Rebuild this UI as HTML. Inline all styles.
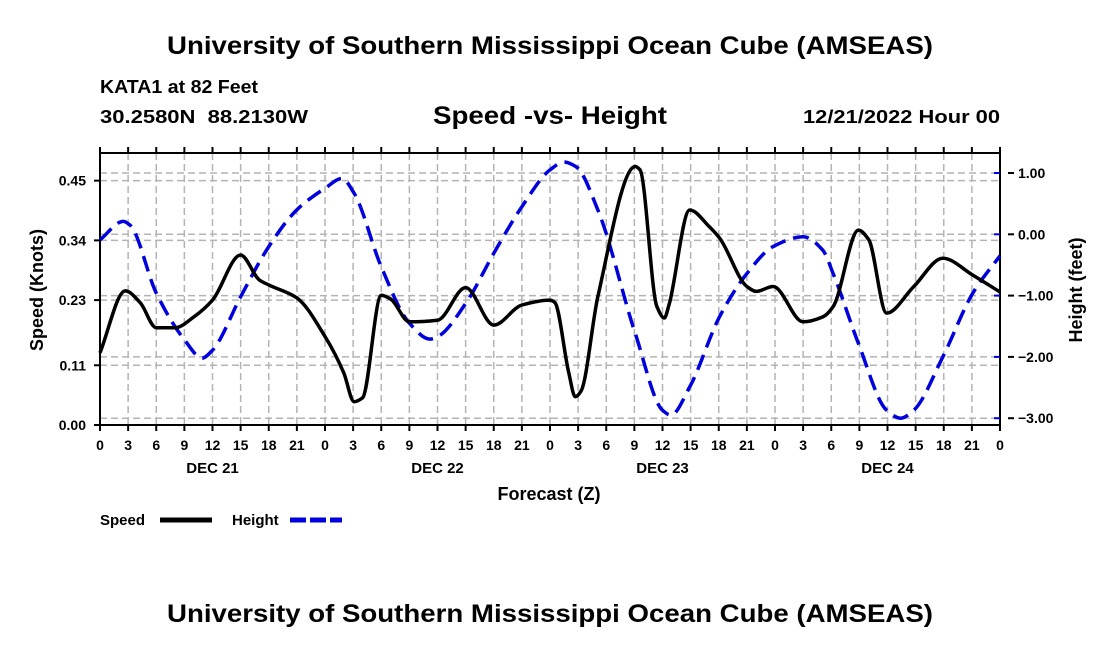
<!DOCTYPE html>
<html><head><meta charset="utf-8"><style>
body{margin:0;background:#fff;}
svg text{font-family:"Liberation Sans",Arial,sans-serif;font-weight:bold;fill:#000;}
</style></head><body>
<svg width="1100" height="650" viewBox="0 0 1100 650">
<text x="167" y="54" font-size="25" textLength="766" lengthAdjust="spacingAndGlyphs">University of Southern Mississippi Ocean Cube (AMSEAS)</text>
<text x="100" y="93" font-size="18" textLength="158" lengthAdjust="spacingAndGlyphs">KATA1 at 82 Feet</text>
<text x="100" y="123" font-size="18" textLength="208" lengthAdjust="spacingAndGlyphs" xml:space="preserve">30.2580N  88.2130W</text>
<text x="433" y="124" font-size="25" textLength="234" lengthAdjust="spacingAndGlyphs">Speed -vs- Height</text>
<text x="803" y="123" font-size="18" textLength="197" lengthAdjust="spacingAndGlyphs">12/21/2022 Hour 00</text>
<g id="grid"></g>
<g id="axes"></g>
<g id="series"></g>
<text transform="translate(43,290) rotate(-90)" font-size="18" text-anchor="middle">Speed (Knots)</text>
<text transform="translate(1082,290) rotate(-90)" font-size="18" text-anchor="middle">Height (feet)</text>
<text x="549" y="500" font-size="18" text-anchor="middle">Forecast (Z)</text>
<g>
<text x="100" y="525" font-size="15">Speed</text>
<line x1="160" y1="520" x2="212" y2="520" stroke="#000" stroke-width="5"/></g>
<g>
<text x="232" y="525" font-size="15">Height</text>
<line x1="290" y1="520" x2="342" y2="520" stroke="#0000dd" stroke-width="5" stroke-dasharray="16,4"/></g>
<text x="167" y="622" font-size="25" textLength="766" lengthAdjust="spacingAndGlyphs">University of Southern Mississippi Ocean Cube (AMSEAS)</text>
</svg>
<script>
const speedHours=[0,2.7,4.3,6,8,10,12,15,17,18,21,24,26,27.1,28,30,31,33,36,39,42,45,48,48.5,50,50.7,51.3,53.1,57.1,57.6,59.4,60.2,60.7,62.9,65,66.1,69,70,71.8,75,77.1,78.2,80.9,82,83.9,86.8,89.9,93.1,96];
const speedVals=[0.133,0.247,0.225,0.179,0.179,0.199,0.230,0.313,0.267,0.258,0.234,0.163,0.096,0.043,0.050,0.239,0.232,0.190,0.193,0.253,0.184,0.221,0.230,0.226,0.096,0.052,0.062,0.236,0.476,0.470,0.218,0.197,0.222,0.396,0.365,0.344,0.255,0.246,0.255,0.190,0.199,0.218,0.359,0.341,0.206,0.255,0.307,0.276,0.245];
const heightHours=[0,2.5,3.2,6,9,10.9,12,15,18,21,24,25.8,27.1,30,33,35.2,36,39,42,45,48,49.5,50.8,53.1,57.1,60,60.9,62.9,66.1,69,71.8,75,77.1,78.2,80.9,83.9,85.4,86.8,89.9,93.1,96];
const heightVals=[-0.09,0.21,0.15,-0.96,-1.72,-2.02,-1.89,-1.02,-0.20,0.40,0.75,0.91,0.67,-0.53,-1.45,-1.71,-1.67,-1.13,-0.31,0.45,1.05,1.18,1.10,0.40,-1.62,-2.87,-2.95,-2.49,-1.34,-0.64,-0.20,-0.04,-0.26,-0.64,-1.78,-2.87,-3.0,-2.87,-2.0,-0.96,-0.35];
const leftTicks=[0,0.11,0.23,0.34,0.45];
const leftTickLabels=["0.00","0.11","0.23","0.34","0.45"];
const rightTicks=[1,0,-1,-2,-3];
const rightTickLabels=["1.00","0.00","\u22121.00","\u22122.00","\u22123.00"];
const xHourLabels=["0","3","6","9","12","15","18","21"];
const dayLabels=["DEC 21","DEC 22","DEC 23","DEC 24"];

const X0=100,X1=1000,YT=153,YB=425;
const xs=h=>X0+h*(X1-X0)/96;
const yl=v=>425-v*543;
const yr=v=>234.3-v*61.3;
const NS="http://www.w3.org/2000/svg";
function mk(p,t,a){const e=document.createElementNS(NS,t);for(const k in a)e.setAttribute(k,a[k]);p.appendChild(e);return e;}
const grid=document.getElementById('grid'),axes=document.getElementById('axes'),series=document.getElementById('series');
const gs={stroke:"#b4b4b4","stroke-width":1.5,"stroke-dasharray":"7,4"};
for(let h=3;h<96;h+=3){const l=mk(grid,'line',Object.assign({x1:xs(h),x2:xs(h),y1:YT,y2:YB},gs));

}
leftTicks.forEach(v=>{const l=mk(grid,'line',Object.assign({x1:X0,x2:X1,y1:yl(v),y2:yl(v)},gs));

});
rightTicks.forEach(v=>{const l=mk(grid,'line',Object.assign({x1:X0,x2:X1,y1:yr(v),y2:yr(v)},gs));

});
mk(axes,'rect',{x:X0,y:YT,width:X1-X0,height:YB-YT,fill:"none",stroke:"#000","stroke-width":2});
for(let h=0;h<=96;h+=3){mk(axes,'line',{x1:xs(h),x2:xs(h),y1:YB,y2:YB+6,stroke:"#000","stroke-width":2});
mk(axes,'line',{x1:xs(h),x2:xs(h),y1:YT-6,y2:YT,stroke:"#000","stroke-width":2});
const t=mk(axes,'text',{x:xs(h),y:YB+25,"font-size":14,"text-anchor":"middle"});t.textContent=xHourLabels[(h/3)%8];

}
dayLabels.forEach((d,i)=>{const t=mk(axes,'text',{x:xs(12+24*i),y:473,"font-size":15,"text-anchor":"middle"});t.textContent=d;

});
leftTicks.forEach((v,i)=>{mk(axes,'line',{x1:X0-6,x2:X0,y1:yl(v),y2:yl(v),stroke:"#000","stroke-width":2});
const t=mk(axes,'text',{x:86,y:yl(v)+5,"font-size":14,"text-anchor":"end"});t.textContent=leftTickLabels[i];

});
rightTicks.forEach((v,i)=>{mk(axes,'line',{x1:X1-6,x2:X1,y1:yr(v),y2:yr(v),stroke:"#0000dd","stroke-width":2});
mk(axes,'line',{x1:X1+8,x2:X1+14,y1:yr(v),y2:yr(v),stroke:"#000","stroke-width":2});
const t=mk(axes,'text',{x:1018,y:yr(v)+5,"font-size":14});t.textContent=rightTickLabels[i];

});
// monotone cubic interpolation (no overshoot)
function monotone(xv,yv){const n=xv.length,d=[],m=[];
for(let i=0;i<n-1;i++)d.push((yv[i+1]-yv[i])/(xv[i+1]-xv[i]));
m[0]=d[0];m[n-1]=d[n-2];
for(let i=1;i<n-1;i++){if(d[i-1]*d[i]<=0)m[i]=0;else{const w1=2*(xv[i+1]-xv[i])+(xv[i]-xv[i-1]),w2=(xv[i+1]-xv[i])+2*(xv[i]-xv[i-1]);m[i]=(w1+w2)/(w1/d[i-1]+w2/d[i]);}}
let s=`M${xv[0].toFixed(1)},${yv[0].toFixed(1)}`;
for(let i=0;i<n-1;i++){const h=(xv[i+1]-xv[i])/3;
s+=`C${(xv[i]+h).toFixed(1)},${(yv[i]+m[i]*h).toFixed(1)} ${(xv[i+1]-h).toFixed(1)},${(yv[i+1]-m[i+1]*h).toFixed(1)} ${xv[i+1].toFixed(1)},${yv[i+1].toFixed(1)}`;}
return s;}
const hp=mk(series,'path',{d:monotone(heightHours.map(xs),heightVals.map(yr)),fill:"none",stroke:"#0000dd","stroke-width":3.5,"stroke-dasharray":"16,8"});


const sp=mk(series,'path',{d:monotone(speedHours.map(xs),speedVals.map(yl)),fill:"none",stroke:"#000","stroke-width":3.5});


</script>
</body></html>
